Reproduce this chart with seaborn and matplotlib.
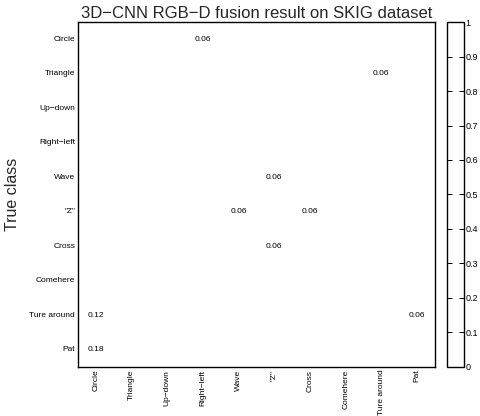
import seaborn as sns
import matplotlib.pyplot as plt
import matplotlib.colors as mcolors
import pandas as pd
import numpy as np

sns.set_style("white")
plt.rcParams["font.family"] = ["Liberation Sans", "DejaVu Sans"]

classes = ["Circle", "Triangle", "Up\u2212down", "Right\u2212left", "Wave",
           "\"Z\"", "Cross", "Comehere", "Ture around", "Pat"]

# confusion matrix rows = true class, cols = predicted class
circle_row = [0.94, 0, 0, 0.06, 0, 0, 0, 0, 0, 0]
triangle_row = [0, 0.94, 0, 0, 0, 0, 0, 0, 0.06, 0]
updown_row = [0, 0, 1.0, 0, 0, 0, 0, 0, 0, 0]
rightleft_row = [0, 0, 0, 1.0, 0, 0, 0, 0, 0, 0]
wave_row = [0, 0, 0, 0, 0.94, 0.06, 0, 0, 0, 0]
z_row = [0, 0, 0, 0, 0.06, 0.88, 0.06, 0, 0, 0]
cross_row = [0, 0, 0, 0, 0, 0.06, 0.94, 0, 0, 0]
comehere_row = [0, 0, 0, 0, 0, 0, 0, 1.0, 0, 0]
turearound_row = [0.12, 0, 0, 0, 0, 0, 0, 0, 0.82, 0.06]
pat_row = [0.18, 0, 0, 0, 0, 0, 0, 0, 0, 0.82]

cm = pd.DataFrame([circle_row, triangle_row, updown_row, rightleft_row, wave_row,
                   z_row, cross_row, comehere_row, turearound_row, pat_row],
                  index=classes, columns=classes)

# only off-diagonal confusions are labelled
labels = np.full(cm.shape, "", dtype=object)
for i in range(len(classes)):
    for j in range(len(classes)):
        v = cm.iloc[i, j]
        if i != j and v > 0:
            labels[i, j] = f"{v:.2f}"

fig = plt.figure(figsize=(4.8, 4.16), dpi=100)
ax = fig.add_axes([0.1625, 0.118, 0.7435, 0.829])
cax = fig.add_axes([0.931, 0.118, 0.036, 0.829])

white = mcolors.ListedColormap(["white"])
sns.heatmap(cm, ax=ax, cbar_ax=cax, cmap=white, vmin=0, vmax=1,
            annot=labels, fmt="", annot_kws={"fontsize": 6, "color": "black"})

ax.set_title("3D\u2212CNN RGB\u2212D fusion result on SKIG dataset", fontsize=12, pad=3)
ax.set_ylabel("True class", fontsize=11.5)
ax.yaxis.set_label_coords(-0.162, 0.5)
ax.set_xlabel("")
ax.tick_params(axis="both", length=0, labelsize=6, pad=2, labelcolor="black")
plt.setp(ax.get_xticklabels(), rotation=90)
plt.setp(ax.get_yticklabels(), rotation=0)
for s in ax.spines.values():
    s.set_visible(True)
    s.set_color("black")
    s.set_linewidth(1)

cbar = ax.collections[0].colorbar
cbar.set_ticks(np.arange(0, 1.01, 0.1))
cbar.set_ticklabels(["0", "0.1", "0.2", "0.3", "0.4", "0.5", "0.6", "0.7", "0.8", "0.9", "1"])
cax.set_axisbelow(False)
cax.tick_params(direction="in", left=True, right=True, length=3.5, width=0.7,
                color="black", labelcolor="black", labelsize=6.5, pad=1)
cbar.outline.set_visible(True)
cbar.outline.set_edgecolor("black")
cbar.outline.set_linewidth(1)

fig.savefig("out.png", dpi=100)
plt.close()
